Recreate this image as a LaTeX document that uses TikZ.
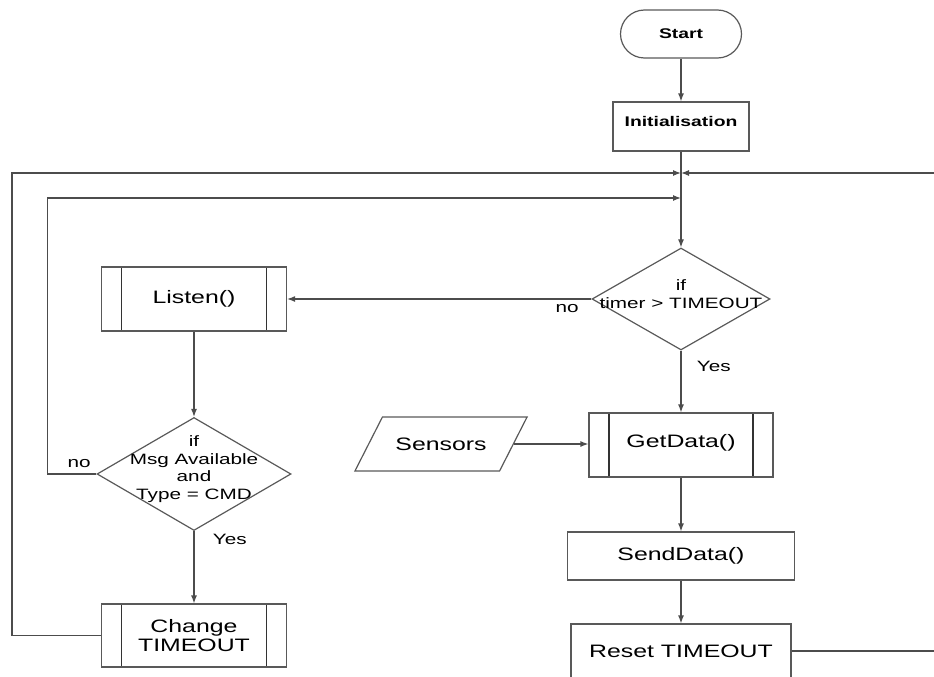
\documentclass[tikz,border=0pt]{standalone}
\usepackage{fontspec}
\setmainfont{Liberation Sans}[FakeStretch=1.38]
\usetikzlibrary{arrows.meta, shapes.geometric}

\begin{document}
\begin{tikzpicture}[x=1pt, y=-1pt, line width=1.2pt]

	\tikzstyle{term}=[rectangle, rounded corners=24pt, draw=black!65, minimum width=121pt, minimum height=48pt, inner sep=0pt, font=\fontsize{14}{16}\selectfont\bfseries]
	\tikzstyle{proc}=[rectangle, draw=black!65, minimum height=48pt, inner sep=0pt, font=\fontsize{18}{20}\selectfont]
	\tikzstyle{subproc}=[proc, minimum width=185pt, minimum height=64pt, path picture={\draw[black!80, line width=1.5pt] ([xshift=20pt]path picture bounding box.north west) -- ([xshift=20pt]path picture bounding box.south west) ([xshift=-20pt]path picture bounding box.north east) -- ([xshift=-20pt]path picture bounding box.south east);}]
	\tikzstyle{decision}=[diamond, draw=black!65, inner sep=0pt]
	\tikzstyle{io}=[trapezium, trapezium left angle=63, trapezium right angle=117, draw=black!65, inner xsep=13pt, inner ysep=20.5pt, text height=13pt, text depth=0pt, font=\fontsize{18}{20}\selectfont]
	\tikzstyle{cond}=[align=center, font=\fontsize{15}{17.5}\selectfont]
	\tikzstyle{lab}=[font=\fontsize{15}{17}\selectfont]
	\tikzstyle{flow}=[draw=black!70, -{Latex[length=8pt, width=6pt]}]

	\useasboundingbox (0,0) rectangle (934,677);
	\clip (0,0) rectangle (934,677);

	% Main column
	\node[term] (start) at (681,34) {Start};
	\node[proc, minimum width=136pt, minimum height=49pt, font=\fontsize{14}{16}\selectfont\bfseries, text height=10pt, text depth=10pt] (init) at (681,126.5) {Initialisation};
	\node[decision, minimum width=178pt, minimum height=102pt, label={[cond, yshift=5pt]center:if\\timer > TIMEOUT}] (timer) at (681,299) {};
	\node[subproc, minimum width=184pt, text height=12.5pt, text depth=8pt] (getdata) at (681,445) {GetData()};
	\node[io] (sensors) at (441,444) {Sensors};
	\node[proc, minimum width=227pt] (send) at (681,556) {SendData()};
	\node[proc, minimum width=220pt, minimum height=54pt] (reset) at (681,651) {Reset TIMEOUT};

	% Listening column
	\node[subproc] (listen) at (194,299) {Listen()};
	\node[decision, minimum width=194pt, minimum height=113pt, label={[cond, yshift=5pt]center:if\\Msg Available\\and\\Type = CMD}] (msg) at (194,474) {};
	\node[subproc, minimum height=63pt, align=center, font=\fontsize{18}{19}\selectfont] (change) at (194,635.5) {Change\\TIMEOUT};

	% Loop junctions
	\coordinate (j1) at (681,173);
	\coordinate (j2) at (681,198);
	\coordinate (edge) at (950,173);

	\draw[flow] (start) -- (init);
	\draw[flow] (init) -- (timer);
	\draw[flow] (timer.west) -- node[lab, pos=0.08, below=1pt]{no} (timer.west -| listen.east);
	\draw[flow] (timer.south) -- node[lab, pos=0.25, right=12pt]{Yes} (getdata.north);
	\draw[flow] (sensors.east) -- (sensors.east -| getdata.west);
	\draw[flow] (getdata) -- (send);
	\draw[flow] (send) -- (reset);
	\draw[flow] (listen) -- (msg);
	\draw[flow] (msg.south) -- node[lab, pos=0.11, right=15pt]{Yes} (change.north);

	% Loops back to the top
	\draw[flow] (msg.west) -- node[lab, pos=0.35, above=2pt]{no} ++(-49,0) |- (j2);
	\draw[flow] (change.west) -- ++(-89,0) |- (j1);
	\draw[flow] (reset.east) -- (reset.east -| edge) |- (j1);

\end{tikzpicture}
\end{document}
